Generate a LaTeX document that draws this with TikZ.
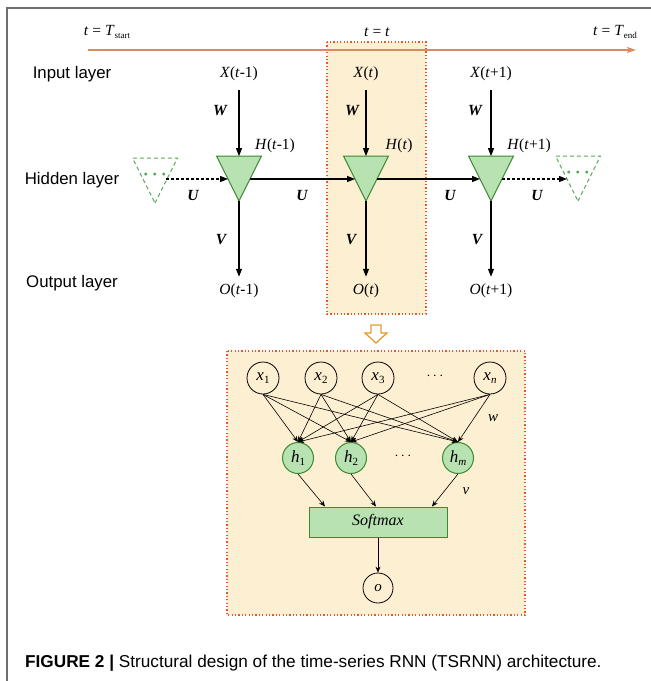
\documentclass[tikz,border=0pt]{standalone}
\usepackage{fontspec}
\setmainfont{Liberation Serif}
\setsansfont{Liberation Sans}
\usetikzlibrary{shapes.geometric,arrows.meta}
\definecolor{beige}{HTML}{FDEFD2}
\definecolor{dotred}{HTML}{E8582A}
\definecolor{trifill}{HTML}{B8E2B2}
\definecolor{tridraw}{HTML}{3A8A30}
\definecolor{dashgreen}{HTML}{5AAA5A}
\definecolor{timeline}{HTML}{D98A5E}
\definecolor{gold}{HTML}{DDA030}
\definecolor{framegray}{HTML}{6E6E6E}
\begin{document}
\begin{tikzpicture}[x=1pt,y=-1pt,
  tri/.style={isosceles triangle, isosceles triangle stretches, shape border rotate=270,
    minimum width=45pt, minimum height=45pt, inner sep=0pt, outer sep=0pt,
    fill=trifill, draw=tridraw, line width=1pt},
  dtri/.style={tri, fill=none, draw=dashgreen, dashed, dash pattern=on 4pt off 3pt},
  lay/.style={font=\sffamily\fontsize{16.8}{19}\selectfont, inner sep=0pt},
  mlab/.style={font=\fontsize{15.5}{18}\selectfont, inner sep=1pt},
  wlab/.style={font=\fontsize{15.5}{18}\selectfont\bfseries\itshape, inner sep=1pt},
  arr/.style={-{Triangle[length=8pt,width=6pt]}, line width=1.1pt},
  darr/.style={arr, dashed, dash pattern=on 3pt off 2pt},
  xc/.style={circle, draw, minimum size=32pt, inner sep=0pt, line width=0.8pt, font=\fontsize{17}{19}\selectfont},
  hc/.style={circle, draw=tridraw, fill=trifill, minimum size=31pt, inner sep=0pt, line width=1pt, font=\fontsize{17}{19}\selectfont},
  narr/.style={-{Stealth[length=6pt,width=5pt]}, line width=0.6pt},
  dotbox/.style={fill=beige, draw=dotred, line width=1.3pt, dash pattern=on 1.2pt off 2.2pt},
  gdots/.style={font=\fontsize{18}{18}\selectfont\bfseries, text=dashgreen, inner sep=0pt}
]
\useasboundingbox (0,0) rectangle (651,681);
\fill[white] (0,0) rectangle (651,681);
% frame
\draw[framegray, line width=1.5pt] (7,681) -- (7,8) -- (651,8);

% shaded column and lower box
\path[dotbox] (327,42) rectangle (426,314);
\path[dotbox] (227,351) rectangle (525,615);

% timeline
\coordinate (tl0) at (88,50);
\coordinate (tl1) at (636,50);
\draw[timeline, line width=2pt, -{Stealth[length=9pt,width=6pt,inset=2pt]}] (tl0) -- (tl1);
\node[mlab] (ts) at (107,32) {\textit{t} = \textit{T}\raisebox{-0.4ex}{\fontsize{9}{10}\selectfont start}};
\node[mlab] (tt) at (377,32) {\textit{t} = \textit{t}};
\node[mlab] (te) at (615,32) {\textit{t} = \textit{T}\raisebox{-0.4ex}{\fontsize{9}{10}\selectfont end}};

% layer labels
\node[lay] (lin) at (72,74) {Input layer};
\node[lay] (lhid) at (72,180) {Hidden layer};
\node[lay] (lout) at (72,283) {Output layer};

% inputs
\node[mlab] (X1) at (239,74) {\textit{X}(\textit{t}-1)};
\node[mlab] (X2) at (366,74) {\textit{X}(\textit{t})};
\node[mlab] (X3) at (491,74) {\textit{X}(\textit{t}+1)};

% hidden triangles
\node[dtri] (T0) at (155,172) {};
\node[tri] (T1) at (239,170) {};
\node[tri] (T2) at (366,170) {};
\node[tri] (T3) at (491,170) {};
\node[dtri] (T4) at (578,170) {};
\node[gdots] (d0) at (155,177) {\char"00B7\,\char"00B7\,\char"00B7};
\node[gdots] (d4) at (578,175) {\char"00B7\,\char"00B7\,\char"00B7};

% outputs
\node[mlab] (O1) at (239,291) {\textit{O}(\textit{t}-1)};
\node[mlab] (O2) at (366,291) {\textit{O}(\textit{t})};
\node[mlab] (O3) at (491,291) {\textit{O}(\textit{t}+1)};

% H labels
\node[mlab] (H1) at (275,146) {\textit{H}(\textit{t}-1)};
\node[mlab] (H2) at (399,146) {\textit{H}(\textit{t})};
\node[mlab] (H3) at (529,146) {\textit{H}(\textit{t}+1)};

% W and V arrows
\foreach \i in {1,2,3} {
  \draw[arr, shorten <=8pt] (X\i.south) -- (T\i.north);
  \draw[arr, shorten >=6pt] (T\i.south) -- (O\i.north);
}
\node[wlab] (W1) at (220,111) {W};
\node[wlab] (W2) at (352,111) {W};
\node[wlab] (W3) at (475,111) {W};
\node[wlab] (V1) at (221,240) {V};
\node[wlab] (V2) at (351,240) {V};
\node[wlab] (V3) at (477,240) {V};

% U arrows (at the level y = 179)
\draw[darr] ([xshift=11pt,yshift=-7pt]T0.center) -- ([xshift=-11pt,yshift=-9pt]T1.center);
\draw[arr] ([xshift=11pt,yshift=-9pt]T1.center) -- ([xshift=-11pt,yshift=-9pt]T2.center);
\draw[arr] ([xshift=11pt,yshift=-9pt]T2.center) -- ([xshift=-11pt,yshift=-9pt]T3.center);
\draw[darr] ([xshift=11pt,yshift=-9pt]T3.center) -- ([xshift=-11pt,yshift=-9pt]T4.center);
\node[wlab] (U0) at (193,195) {U};
\node[wlab] (U1) at (302,195) {U};
\node[wlab] (U2) at (450,195) {U};
\node[wlab] (U3) at (537,195) {U};

% hollow arrow
\draw[gold, fill=white, line width=1.3pt, line join=miter]
  (371,325) -- (381,325) -- (381,333) -- (387,333) -- (376,343) -- (365,333) -- (371,333) -- cycle;

% neural net
\node[xc] (x1) at (263,378) {\textit{x}\raisebox{-0.4ex}{\fontsize{11}{12}\selectfont 1}};
\node[xc] (x2) at (321,378) {\textit{x}\raisebox{-0.4ex}{\fontsize{11}{12}\selectfont 2}};
\node[xc] (x3) at (378,378) {\textit{x}\raisebox{-0.4ex}{\fontsize{11}{12}\selectfont 3}};
\node[mlab] (xd) at (435,376) {$\cdots$};
\node[xc] (xn) at (490,378) {\textit{x}\raisebox{-0.4ex}{\fontsize{11}{12}\selectfont\itshape n}};

\node[hc] (h1) at (298,458) {\textit{h}\raisebox{-0.4ex}{\fontsize{11}{12}\selectfont 1}};
\node[hc] (h2) at (351,458) {\textit{h}\raisebox{-0.4ex}{\fontsize{11}{12}\selectfont 2}};
\node[mlab] (hd) at (403,456) {$\cdots$};
\node[hc] (hm) at (458,458) {\textit{h}\raisebox{-0.4ex}{\fontsize{11}{12}\selectfont\itshape m}};

\foreach \a in {x1,x2,x3,xn} {
  \foreach \b in {h1,h2,hm} {
    \draw[narr] (\a.south) -- (\b.north);
  }
}
\node[mlab, font=\fontsize{15}{17}\selectfont\itshape] (wl) at (493,418) {w};
\node[mlab, font=\fontsize{15}{17}\selectfont\itshape] (vl) at (466,491) {v};

\node[draw=tridraw, fill=trifill, line width=1pt, minimum width=138pt, minimum height=30pt,
  inner sep=0pt, font=\fontsize{16}{18}\selectfont\itshape] (sm) at (378,522) {Softmax};
\draw[narr] (h1.south) -- ([xshift=-53pt]sm.north);
\draw[narr] (h2.south) -- ([xshift=-2pt]sm.north);
\draw[narr] (hm.south) -- ([xshift=54pt]sm.north);

\node[xc, minimum size=30pt, font=\fontsize{15}{17}\selectfont\itshape] (o) at (378,588) {o};
\draw[narr] (sm.south) -- (o.north);

% caption
\node[anchor=west, inner sep=0pt, font=\sffamily\fontsize{17.2}{20}\selectfont] (cap) at (25,663)
  {\textbf{FIGURE 2 |} Structural design of the time-series RNN (TSRNN) architecture.};
\end{tikzpicture}
\end{document}
